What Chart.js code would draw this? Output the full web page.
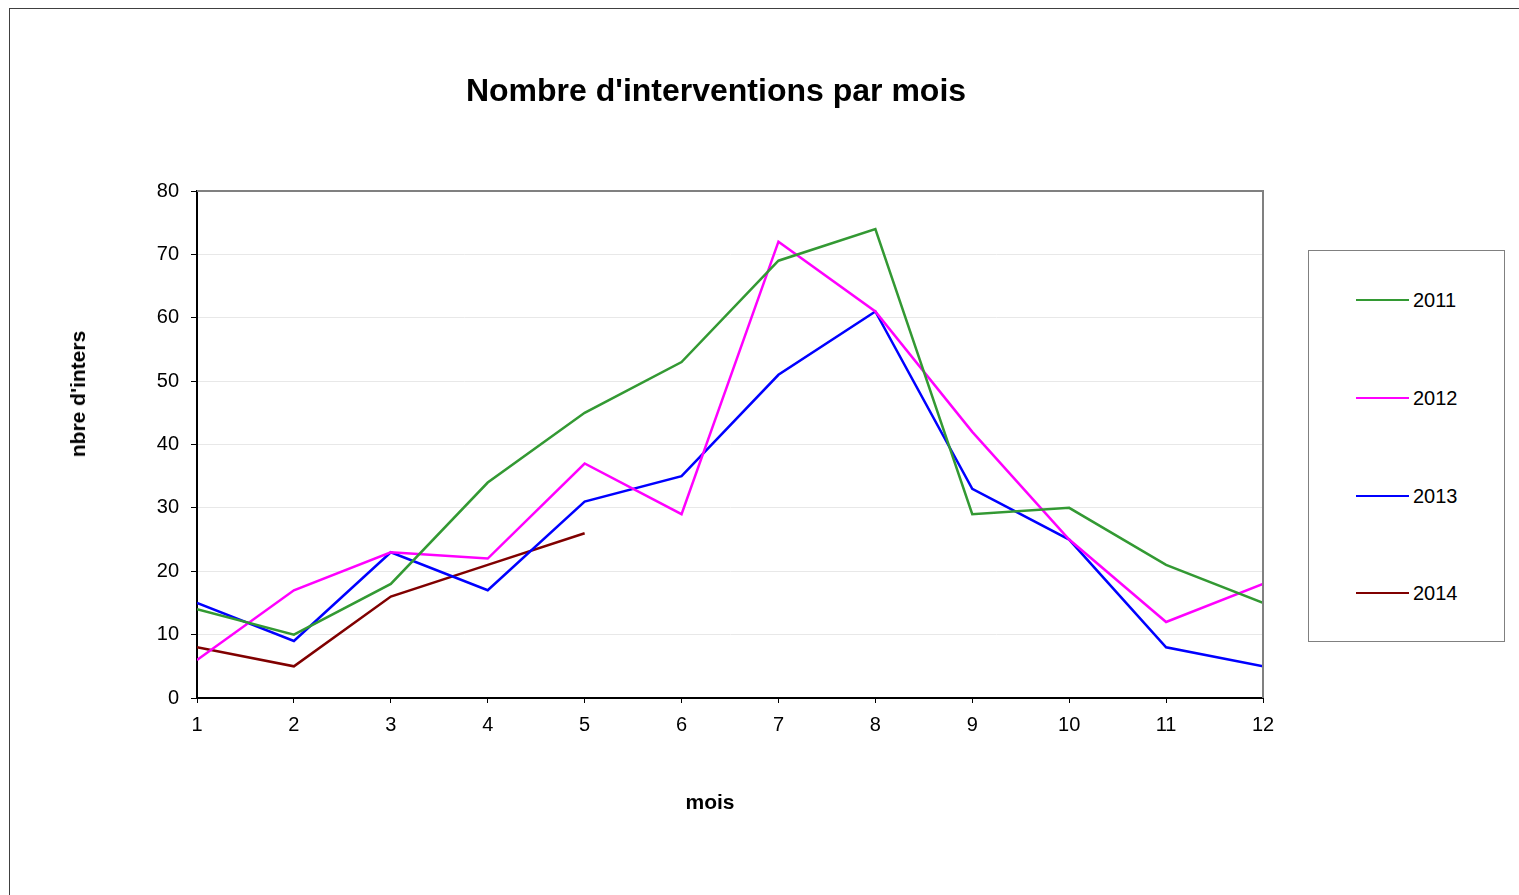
<!DOCTYPE html>
<html>
<head>
<meta charset="utf-8">
<script src="https://cdn.jsdelivr.net/npm/chart.js@4"></script>
<style>
  body { margin: 0; background: #fff; font-family: "Liberation Sans", Arial, sans-serif; }
  #wrap { position: relative; width: 1519px; height: 895px; overflow: hidden; }
  #frame { position: absolute; left: 9px; top: 8px; right: -5px; bottom: -5px;
           border-left: 1px solid #404040; border-top: 1px solid #404040; }
  canvas { position: absolute; left: 0; top: 0; }
  .txt { position: absolute; font-weight: bold; color: #000; white-space: nowrap; }
  #title { left: 716px; top: 90px; font-size: 32px; transform: translate(-50%, -50%); }
  #ytitle { left: 78px; top: 394px; font-size: 21px; transform: translate(-50%, -50%) rotate(-90deg); }
  #xtitle { left: 710px; top: 802px; font-size: 21px; transform: translate(-50%, -50%); }
  #legend { position: absolute; left: 1308px; top: 250px; width: 195px; height: 390px;
            border: 1px solid #808080; background: #fff; }
  .item { position: absolute; left: 47px; height: 20px; display: flex; align-items: center; font-size: 20px; }
  .item .swatch { width: 53px; height: 0; border-top: 2.5px solid; margin-right: 4px; }
</style>
</head>
<body>
<div id="wrap">
  <div id="frame"></div>
  <canvas id="chart" width="1519" height="895"></canvas>
  <div class="txt" id="title">Nombre d'interventions par mois</div>
  <div class="txt" id="ytitle">nbre d'inters</div>
  <div class="txt" id="xtitle">mois</div>
  <div id="legend"></div>
</div>
<script>
// Data
const months = [1, 2, 3, 4, 5, 6, 7, 8, 9, 10, 11, 12];
const years = ["2011", "2012", "2013", "2014"];
const colors = ["#339933", "#FF00FF", "#0000FF", "#800000"];
const v2011 = [14, 10, 18, 34, 45, 53, 69, 74, 29, 30, 21, 15];
const v2012 = [6, 17, 23, 22, 37, 29, 72, 61, 42, 25, 12, 18];
const v2013 = [15, 9, 23, 17, 31, 35, 51, 61, 33, 25, 8, 5];
const v2014 = [8, 5, 16, 21, 26];
const yTicks = [0, 10, 20, 30, 40, 50, 60, 70, 80];

const series = [v2011, v2012, v2013, v2014];

// Legend
const legend = document.getElementById("legend");
const legendTops = [39, 137, 235, 332];
years.forEach((y, i) => {
  const div = document.createElement("div");
  div.className = "item";
  div.style.top = legendTops[i] + "px";
  div.innerHTML = `<span class="swatch" style="border-color:${colors[i]}"></span><span>${y}</span>`;
  legend.appendChild(div);
});

// top + right frame of plot area in gray
const plotFrame = {
  id: "plotFrame",
  afterDraw(chart) {
    const { ctx, chartArea: a } = chart;
    ctx.save();
    ctx.strokeStyle = "#808080";
    ctx.lineWidth = 2;
    ctx.beginPath();
    ctx.moveTo(a.left, a.top);
    ctx.lineTo(a.right, a.top);
    ctx.lineTo(a.right, a.bottom);
    ctx.stroke();
    ctx.restore();
  },
};

const font = { family: "'Liberation Sans', Arial, sans-serif", size: 20 };

new Chart(document.getElementById("chart"), {
  type: "line",
  data: {
    datasets: series.map((s, i) => ({
      label: years[i],
      data: s.map((v, j) => ({ x: months[j], y: v })),
      borderColor: colors[i],
      backgroundColor: colors[i],
      borderWidth: 2.5,
      pointRadius: 0,
      tension: 0,
    })),
  },
  options: {
    responsive: false,
    animation: false,
    devicePixelRatio: 1,
    layout: { padding: { left: 0, top: 191, right: 256, bottom: 0 } },
    plugins: { legend: { display: false }, tooltip: { enabled: false }, title: { display: false } },
    scales: {
      x: {
        type: "linear",
        min: 1,
        max: 12,
        afterBuildTicks: (axis) => { axis.ticks = months.map((m) => ({ value: m })); },
        afterFit: (axis) => { axis.height = 197; },
        ticks: { color: "#000", font: font, padding: 10, maxRotation: 0 },
        grid: { drawOnChartArea: false, drawTicks: true, tickLength: 5, tickColor: "#000" },
        border: { color: "#000", width: 2 },
      },
      y: {
        min: 0,
        max: 80,
        afterBuildTicks: (axis) => { axis.ticks = yTicks.map((t) => ({ value: t })); },
        afterFit: (axis) => { axis.width = 197; },
        ticks: { color: "#000", font: font, padding: 12 },
        grid: { color: "#e8e8e8", tickColor: "#000", tickLength: 6, lineWidth: 1 },
        border: { color: "#000", width: 2 },
      },
    },
  },
  plugins: [plotFrame],
});
</script>
</body>
</html>
